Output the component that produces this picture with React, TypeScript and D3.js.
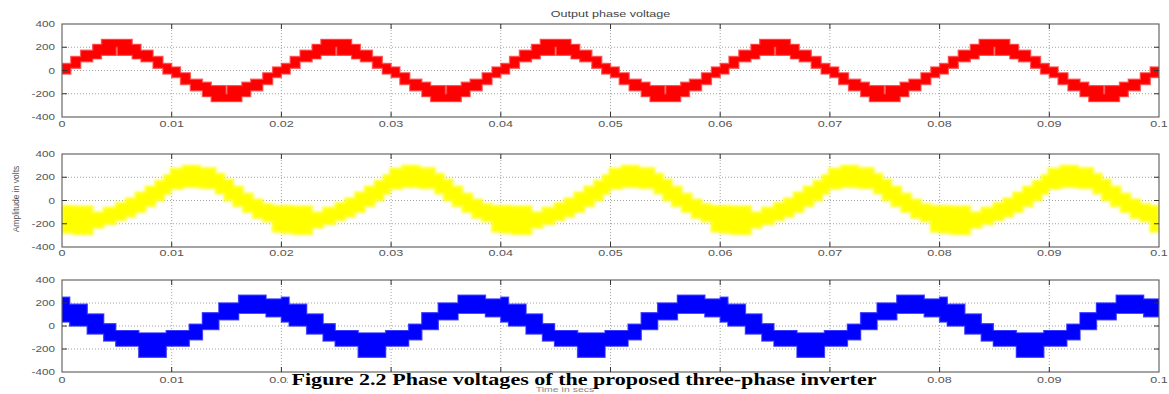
import * as d3 from 'd3';

const W = 1169;
const H = 394;

const X_TICKS = [0, 0.01, 0.02, 0.03, 0.04, 0.05, 0.06, 0.07, 0.08, 0.09, 0.1];
const X_TICK_LABELS = ['0', '0.01', '0.02', '0.03', '0.04', '0.05', '0.06', '0.07', '0.08', '0.09', '0.1'];
const Y_TICKS = [400, 200, 0, -200, -400];
const Y_TICK_LABELS = ['400', '200', '0', '-200', '-400'];

// the signal is a 50 Hz wave, 5 periods shown
const CYCLE_STARTS = [0, 0.02, 0.04, 0.06, 0.08];
const T_END = 0.1;

// one period each: [start (ms), upper edge (V), lower edge (V)] of the switching band
const RED_STEPS: [number, number, number][] = [
  [0, 60, -30], [0.8, 120, 20], [1.7, 175, 75], [2.8, 225, 100], [3.6, 268, 130],
  [4.95, 268, 200], [5.05, 268, 130], [6.4, 225, 100], [7.2, 175, 75], [8.3, 120, 20],
  [9.2, 60, -30], [10.0, 30, -60], [10.8, -20, -120], [11.7, -75, -175], [12.8, -100, -225],
  [13.6, -130, -268], [14.95, -200, -268], [15.05, -130, -268], [16.4, -100, -225],
  [17.2, -75, -175], [18.3, -20, -120], [19.2, 30, -60],
];

const YELLOW_STEPS: [number, number, number][] = [
  [0, -45, -280], [1.0, -50, -290], [2.8, -100, -235], [3.8, -60, -205], [4.9, -20, -170],
  [5.8, 20, -140], [6.7, 70, -100], [7.6, 120, -50], [8.5, 170, 0], [9.3, 220, 55],
  [9.9, 275, 100], [11.0, 300, 115], [12.6, 280, 105], [14.0, 230, 60], [14.8, 180, 0],
  [15.6, 120, -50], [16.5, 60, -100], [17.4, 10, -150], [18.3, -30, -180], [19.2, -45, -270],
];

const BLUE_STEPS: [number, number, number][] = [
  [0, 250, 35], [0.7, 190, 0], [2.3, 105, -70], [3.8, 20, -130], [4.9, -40, -175],
  [7.0, -60, -272], [9.5, -40, -175], [11.6, 15, -120], [12.8, 115, -30], [14.3, 200, 55],
  [16.1, 268, 110], [18.6, 235, 80],
];

const TITLE = 'Output phase voltage';
const Y_LABEL = 'Amplitude in volts';
const X_LABEL = 'Time in secs';
const CAPTION = 'Figure 2.2 Phase voltages of the proposed three-phase inverter';

const LEFT = 62;
const RIGHT = 1159;

// white strip under the caption; tick labels that fall inside it are hidden in the original
const CAP_X0 = 288;
const CAP_X1 = 880;

const PANELS = [
  { top: 24, bottom: 117, steps: RED_STEPS, fill: '#ff0000', halo: '#ff4040', labelY: 127, blur: 0.35, halo_w: 1.4 },
  { top: 154, bottom: 247, steps: YELLOW_STEPS, fill: '#ffff00', halo: '#ffff30', labelY: 256, blur: 1.3, halo_w: 2.4 },
  { top: 280, bottom: 372, steps: BLUE_STEPS, fill: '#0000ff', halo: '#2020ff', labelY: 383, blur: 0.35, halo_w: 1.4 },
];

type Pt = { t: number; hi: number; lo: number };

function buildBand(steps: [number, number, number][]): Pt[] {
  const pts: Pt[] = [];
  CYCLE_STARTS.forEach((c0) => {
    steps.forEach(([ms, hi, lo]) => pts.push({ t: c0 + ms / 1000, hi, lo }));
  });
  const last = steps[steps.length - 1];
  pts.push({ t: T_END, hi: last[1], lo: last[2] });
  return pts;
}

const FONT = '"Liberation Sans", Arial, sans-serif';

const Panel = ({ p, idx }: { p: (typeof PANELS)[number]; idx: number }) => {
  const x = d3.scaleLinear().domain([0, T_END]).range([LEFT, RIGHT]);
  const y = d3.scaleLinear().domain([-400, 400]).range([p.bottom, p.top]);
  const band = buildBand(p.steps);
  const area = d3
    .area<Pt>()
    .x((d) => x(d.t))
    .y0((d) => y(d.lo))
    .y1((d) => y(d.hi))
    .curve(d3.curveStepAfter);
  const isLast = idx === PANELS.length - 1;

  return (
    <g>
      <clipPath id={'clip' + idx}>
        <rect x={LEFT} y={p.top} width={RIGHT - LEFT} height={p.bottom - p.top} />
      </clipPath>
      {/* grid */}
      {X_TICKS.slice(1, -1).map((t) => (
        <line key={'gx' + t} x1={x(t)} x2={x(t)} y1={p.top} y2={p.bottom}
          stroke="#8c8c8c" strokeWidth={0.8} strokeDasharray="1,2" />
      ))}
      {Y_TICKS.slice(1, -1).map((v) => (
        <line key={'gy' + v} x1={LEFT} x2={RIGHT} y1={y(v)} y2={y(v)}
          stroke="#8c8c8c" strokeWidth={0.8} strokeDasharray="1,2" />
      ))}

      {/* waveform band */}
      <g clipPath={`url(#clip${idx})`}>
        <path d={area(band) ?? ''} fill={p.fill}
          stroke={p.halo} strokeWidth={p.halo_w} strokeOpacity={0.75}
          filter={`url(#fuzz${idx})`} />
      </g>

      {/* box + inward ticks */}
      <rect x={LEFT} y={p.top} width={RIGHT - LEFT} height={p.bottom - p.top}
        fill="none" stroke="#5a5a5a" strokeWidth={1.1} />
      {X_TICKS.slice(1, -1).map((t) => (
        <g key={'tx' + t} stroke="#333" strokeWidth={1}>
          <line x1={x(t)} x2={x(t)} y1={p.bottom} y2={p.bottom - 5} />
          <line x1={x(t)} x2={x(t)} y1={p.top} y2={p.top + 5} />
        </g>
      ))}
      {Y_TICKS.slice(1, -1).map((v) => (
        <g key={'ty' + v} stroke="#333" strokeWidth={1}>
          <line x1={LEFT} x2={LEFT + 5} y1={y(v)} y2={y(v)} />
          <line x1={RIGHT} x2={RIGHT - 5} y1={y(v)} y2={y(v)} />
        </g>
      ))}

      {/* tick labels */}
      {X_TICKS.map((t, i) =>
        isLast && x(t) > CAP_X0 + 10 && x(t) < CAP_X1 ? null : (
          <text key={'lx' + t} transform={`translate(${x(t)},${p.labelY}) scale(1.4,1)`}
            textAnchor="middle" fontSize={9} fill="#555" fontFamily={FONT}>
            {X_TICK_LABELS[i]}
          </text>
        )
      )}
      {Y_TICKS.map((v, i) => (
        <text key={'ly' + v} transform={`translate(55,${y(v) + 3.2}) scale(1.3,1)`}
          textAnchor="end" fontSize={9} fill="#555" fontFamily={FONT}>
          {Y_TICK_LABELS[i]}
        </text>
      ))}
    </g>
  );
};

export default function App() {
  return (
    <svg width={W} height={H} style={{ position: 'absolute', left: 0, top: 0, background: '#fff' }}>
      <defs>
        {PANELS.map((p, i) => (
          <filter key={i} id={'fuzz' + i} x="-2%" y="-20%" width="104%" height="140%">
            <feGaussianBlur stdDeviation={p.blur} />
          </filter>
        ))}
      </defs>
      <rect width={W} height={H} fill="#fff" />
      {PANELS.map((p, i) => (
        <Panel key={i} p={p} idx={i} />
      ))}

      <text transform={`translate(${(LEFT + RIGHT) / 2},17) scale(1.4,1)`} textAnchor="middle"
        fontSize={9} fill="#444" fontFamily={FONT}>
        {TITLE}
      </text>
      <text transform="translate(19,199) rotate(-90)" textAnchor="middle" fontSize={8.5}
        fill="#555" fontFamily={FONT}>
        {Y_LABEL}
      </text>
      <text transform="translate(565,391.5) scale(1.4,1)" textAnchor="middle" fontSize={7.5}
        fill="#888" fontFamily={FONT}>
        {X_LABEL}
      </text>

      {/* figure caption, on its own white strip */}
      <rect x={CAP_X0} y={374} width={CAP_X1 - CAP_X0} height={11} fill="#fff" />
      <text x={584} y={385} textAnchor="middle" fontSize={17} fontWeight="bold" fill="#000"
        fontFamily='"Liberation Serif", "Times New Roman", serif' textLength={585}
        lengthAdjust="spacingAndGlyphs">
        {CAPTION}
      </text>
    </svg>
  );
}
